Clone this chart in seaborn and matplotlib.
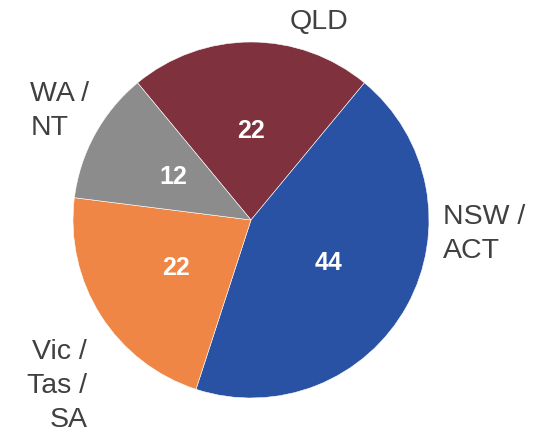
import matplotlib
matplotlib.use("Agg")
import matplotlib.pyplot as plt
import seaborn as sns

regions = ["QLD", "NSW /\nACT", "Vic /\nTas /\nSA", "WA /\nNT"]
values = [22, 44, 22, 12]
colors = ["#7F323D", "#2A52A4", "#EF8646", "#8C8C8C"]

sns.set_theme(style="white")
plt.rcParams['font.family'] = ['Liberation Sans', 'DejaVu Sans']

fig = plt.figure(figsize=(5.39, 4.33), dpi=100)
ax = fig.add_axes([0, 0, 1, 1])

wedges, texts, autotexts = ax.pie(
    values, labels=regions, colors=colors, startangle=129.6, counterclock=False,
    autopct=lambda p: f"{p:.0f}", pctdistance=0.5,
    wedgeprops=dict(edgecolor="white", linewidth=0.4),
    textprops=dict(fontsize=20.5, color="#404040"),
)
for t in autotexts:
    t.set_color("white")
    t.set_fontweight("bold")
    t.set_fontsize(18)

# label placement (layout)
label_pos = [((0.38, 1.11), "center", "center"),
             ((1.08, -0.08), "left", "center"),
             ((-0.92, -0.93), "right", "center"),
             ((-1.24, 0.61), "left", "center")]
for t, (pos, ha, va) in zip(texts, label_pos):
    t.set_position(pos)
    t.set_ha(ha)
    t.set_va(va)
    t.set_multialignment(ha if ha != "center" else "center")
    t.set_linespacing(1.4)

ax.set_aspect("auto")
ax.set_xlim(-251 / 178, (539 - 251) / 178)
ax.set_ylim(-213 / 178, 220 / 178)
ax.axis("off")

fig.savefig("out.png", dpi=100)
